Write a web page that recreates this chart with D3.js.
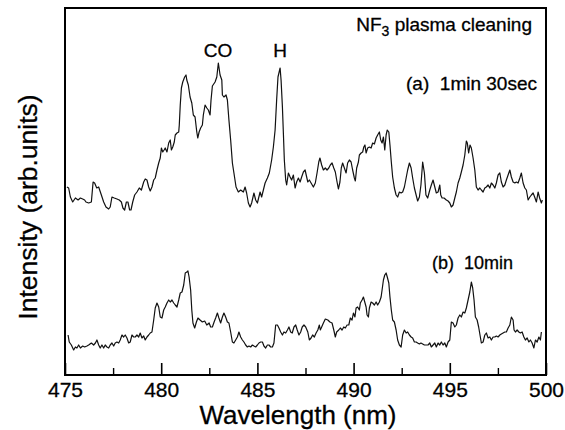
<!DOCTYPE html>
<html>
<head>
<meta charset="utf-8">
<script src="https://cdn.jsdelivr.net/npm/d3@7"></script>
<style>
  body { margin: 0; background: #fff; }
  text { font-family: "Liberation Sans", Arial, Helvetica, sans-serif; fill: #000; stroke: #000; stroke-width: 0.3px; }
</style>
</head>
<body>
<svg id="chart" width="565" height="430"></svg>
<script>
// Emission spectra recorded during NF3 plasma cleaning (arbitrary intensity units)
const wavelengthA = [475.10,475.19,475.28,475.40,475.54,475.68,475.80,475.92,476.02,476.09,476.23,476.37,476.46,476.54,476.65,476.75,476.89,477.01,477.13,477.27,477.35,477.44,477.56,477.70,477.82,477.93,478.01,478.10,478.19,478.27,478.36,478.43,478.52,478.62,478.74,478.86,478.97,479.09,479.17,479.26,479.35,479.43,479.52,479.61,479.69,479.78,479.87,479.95,480.01,480.08,480.15,480.21,480.30,480.39,480.47,480.53,480.60,480.68,480.73,480.82,480.91,480.94,480.99,481.05,481.12,481.22,481.29,481.33,481.41,481.50,481.59,481.67,481.76,481.85,481.90,481.97,482.05,482.14,482.19,482.28,482.37,482.45,482.54,482.59,482.66,482.80,482.89,482.97,483.06,483.15,483.18,483.26,483.37,483.44,483.52,483.61,483.70,483.78,483.89,484.01,484.13,484.27,484.36,484.44,484.53,484.62,484.70,484.82,484.91,485.00,485.14,485.22,485.31,485.40,485.52,485.62,485.74,485.83,485.92,486.00,486.07,486.18,486.23,486.30,486.35,486.40,486.47,486.52,486.61,486.70,486.78,486.87,486.96,487.04,487.13,487.22,487.30,487.39,487.48,487.56,487.62,487.70,487.79,487.91,488.01,488.10,488.19,488.25,488.34,488.43,488.53,488.62,488.71,488.79,488.88,488.97,489.05,489.14,489.21,489.29,489.36,489.43,489.52,489.61,489.69,489.78,489.87,489.95,490.04,490.09,490.16,490.25,490.30,490.39,490.47,490.53,490.59,490.65,490.73,490.82,490.91,490.99,491.08,491.17,491.25,491.34,491.41,491.48,491.55,491.62,491.69,491.75,491.83,491.89,491.96,492.03,492.12,492.21,492.29,492.38,492.47,492.55,492.64,492.73,492.81,492.90,492.99,493.07,493.16,493.25,493.33,493.42,493.50,493.59,493.68,493.76,493.85,493.96,494.04,494.13,494.22,494.30,494.39,494.48,494.53,494.60,494.70,494.82,494.91,495.00,495.08,495.17,495.26,495.34,495.43,495.52,495.60,495.69,495.78,495.86,495.91,495.98,496.05,496.12,496.21,496.30,496.38,496.47,496.56,496.64,496.73,496.82,496.90,496.99,497.08,497.16,497.25,497.34,497.42,497.51,497.60,497.68,497.77,497.86,497.94,498.03,498.12,498.20,498.29,498.38,498.46,498.55,498.64,498.72,498.81,498.90,498.98,499.07,499.16,499.24,499.33,499.41,499.50,499.59,499.67,499.76,499.81];
const intensityA = [188,187,178,173,177,175,177,176,175,173,172,173,193,192,187,188,180,173,168,166,168,178,177,176,175,173,167,165,173,173,165,165,173,180,183,187,185,193,196,195,188,184,188,195,197,205,212,217,227,223,225,227,223,232,235,225,228,233,240,242,243,250,270,287,293,298,300,295,290,278,272,260,258,243,237,243,247,250,260,270,267,265,260,275,289,293,298,312,300,295,280,278,280,275,255,235,212,202,188,183,185,183,188,182,172,168,172,182,175,172,183,178,185,192,197,202,215,228,245,275,298,307,295,268,242,215,195,190,202,198,195,200,187,193,197,193,198,203,205,198,193,195,192,188,192,202,213,217,210,205,207,205,207,210,212,207,203,193,186,193,207,212,207,202,212,215,213,205,197,194,207,213,220,222,223,228,230,222,227,228,227,232,231,237,240,243,235,232,238,225,240,245,243,230,213,198,187,180,178,183,182,183,188,197,205,212,207,197,187,180,174,178,190,213,202,180,177,185,190,195,188,182,183,190,180,177,177,175,174,172,168,170,177,183,192,197,203,210,220,234,232,222,230,227,217,205,188,185,187,185,183,187,188,190,187,192,190,187,192,200,202,193,188,190,195,200,205,198,193,192,193,192,197,202,192,187,185,175,178,180,182,178,173,183,177,172,175];

const wavelengthB = [475.16,475.22,475.33,475.45,475.54,475.62,475.71,475.80,475.92,476.02,476.14,476.23,476.37,476.49,476.58,476.66,476.75,476.83,476.92,477.01,477.09,477.18,477.27,477.35,477.44,477.53,477.61,477.70,477.79,477.87,477.96,478.05,478.13,478.22,478.31,478.39,478.48,478.57,478.65,478.74,478.83,478.91,479.00,479.09,479.17,479.26,479.35,479.43,479.52,479.61,479.69,479.78,479.87,479.95,480.04,480.13,480.21,480.30,480.39,480.47,480.56,480.65,480.73,480.82,480.91,480.99,481.08,481.17,481.25,481.33,481.39,481.45,481.53,481.59,481.65,481.74,481.83,481.91,482.02,482.14,482.26,482.37,482.49,482.57,482.66,482.75,482.83,482.92,483.00,483.09,483.18,483.26,483.35,483.44,483.52,483.61,483.70,483.78,483.87,483.96,484.04,484.13,484.22,484.30,484.39,484.48,484.56,484.65,484.74,484.82,484.91,485.00,485.08,485.17,485.26,485.34,485.43,485.52,485.60,485.69,485.78,485.86,485.95,486.04,486.12,486.21,486.30,486.38,486.47,486.56,486.64,486.73,486.81,486.90,486.99,487.07,487.16,487.25,487.33,487.42,487.51,487.62,487.70,487.79,487.87,487.96,488.05,488.14,488.22,488.27,488.34,488.43,488.53,488.66,488.77,488.88,488.97,489.05,489.12,489.23,489.31,489.40,489.49,489.57,489.66,489.75,489.83,489.92,489.99,490.07,490.13,490.21,490.30,490.35,490.44,490.51,490.58,490.65,490.70,490.77,490.82,490.91,490.99,491.08,491.17,491.25,491.34,491.43,491.48,491.55,491.62,491.69,491.75,491.83,491.89,491.96,492.03,492.12,492.21,492.29,492.38,492.47,492.55,492.64,492.73,492.81,492.90,492.99,493.07,493.16,493.25,493.33,493.42,493.50,493.59,493.68,493.76,493.87,493.96,494.04,494.13,494.22,494.30,494.39,494.48,494.56,494.65,494.74,494.82,494.91,495.00,495.08,495.17,495.26,495.34,495.43,495.52,495.60,495.69,495.78,495.86,495.95,496.04,496.12,496.19,496.26,496.33,496.42,496.50,496.57,496.64,496.73,496.82,496.90,496.99,497.08,497.16,497.25,497.34,497.42,497.51,497.60,497.68,497.77,497.86,497.94,498.03,498.12,498.20,498.29,498.34,498.41,498.50,498.59,498.67,498.76,498.85,498.93,499.02,499.11,499.19,499.28,499.37,499.45,499.54,499.63,499.71,499.76];
const intensityB = [40,33,30,25,28,27,30,27,29,28,29,30,32,30,32,35,30,27,30,27,30,28,27,30,32,29,32,33,32,35,40,38,40,37,32,33,40,38,38,40,38,42,37,39,35,38,40,42,43,55,67,72,68,58,57,65,68,72,75,73,75,72,70,68,75,82,83,90,102,103,104,98,85,65,52,47,53,57,55,53,54,50,52,48,48,53,57,62,57,52,58,62,58,53,52,43,33,32,35,38,43,38,35,33,30,28,29,28,30,29,28,30,32,33,33,29,27,30,30,28,28,32,50,50,47,43,40,43,42,45,48,43,42,48,50,45,40,43,48,50,48,43,35,37,40,38,42,45,50,45,48,52,56,55,53,52,45,38,43,45,47,45,48,47,50,50,57,55,62,58,67,68,65,72,75,78,73,68,60,58,67,73,72,70,73,70,73,78,85,95,100,102,98,92,78,65,55,53,45,35,30,28,40,45,42,43,40,38,37,33,33,32,31,32,31,30,30,30,32,28,30,32,28,32,30,33,30,32,28,33,35,53,52,48,50,57,60,58,63,62,67,75,83,93,87,75,58,55,48,40,32,33,40,42,37,38,35,38,38,39,38,40,41,42,43,43,47,50,58,55,45,43,45,43,42,43,38,35,37,33,35,32,27,35,33,38,35,43];

const xDomain = [475, 500];
const majorTicks = [475, 480, 485, 490, 495, 500];
const minorTicks = [477.5, 482.5, 487.5, 492.5, 497.5];
const xTitle = "Wavelength (nm)";
const yTitle = "Intensity (arb.units)";
const seriesLabels = ["(a)  1min 30sec", "(b)  10min"];
const peakLabels = ["CO", "H"];
const peakWavelengths = [482.95, 486.18];

const svg = d3.select("#chart");
const margin = { left: 65, right: 19, top: 8, bottom: 55 };
const W = 565, H = 430;

const x = d3.scaleLinear().domain(xDomain).range([margin.left, W - margin.right]);
const y = d3.scaleLinear().domain([0, 367]).range([H - margin.bottom, margin.top]);

svg.append("rect").attr("width", W).attr("height", H).attr("fill", "#fff");

// spectra
const line = d3.line().x(d => x(d[0])).y(d => y(d[1])).curve(d3.curveLinear);
const traces = [
  d3.zip(wavelengthA, intensityA),
  d3.zip(wavelengthB, intensityB)
];
svg.selectAll("path.trace").data(traces).join("path")
  .attr("class", "trace")
  .attr("d", line)
  .attr("fill", "none")
  .attr("stroke", "#111")
  .attr("stroke-width", 1.2)
  .attr("stroke-linejoin", "round");

// frame
svg.append("rect")
  .attr("x", x(xDomain[0])).attr("y", margin.top)
  .attr("width", x(xDomain[1]) - x(xDomain[0]))
  .attr("height", y(0) - margin.top)
  .attr("fill", "none").attr("stroke", "#000").attr("stroke-width", 2);

// bottom axis: major ticks with labels, minor ticks without
const axisMajor = d3.axisBottom(x).tickValues(majorTicks).tickSize(-12).tickPadding(10)
  .tickFormat(d3.format("d"));
const gMajor = svg.append("g").attr("transform", `translate(0,${y(0)})`).call(axisMajor);
gMajor.select(".domain").remove();
gMajor.selectAll(".tick line").attr("stroke", "#000").attr("stroke-width", 1.6);
gMajor.selectAll(".tick text")
  .attr("y", 22).attr("dy", 0)
  .style("font-size", "21px").style("font-family", "'Liberation Sans', Arial, sans-serif");

const axisMinor = d3.axisBottom(x).tickValues(minorTicks).tickSize(-7).tickFormat("");
const gMinor = svg.append("g").attr("transform", `translate(0,${y(0)})`).call(axisMinor);
gMinor.select(".domain").remove();
gMinor.selectAll(".tick line").attr("stroke", "#000").attr("stroke-width", 1.4);

// axis titles
svg.append("text")
  .attr("x", 298).attr("y", 424)
  .attr("text-anchor", "middle").style("font-size", "26px")
  .text(xTitle);

svg.append("text")
  .attr("transform", `translate(37,207) rotate(-90)`)
  .attr("text-anchor", "middle").style("font-size", "26.5px")
  .text(yTitle);

// annotations
const title = svg.append("text")
  .attr("x", 532).attr("y", 31).attr("text-anchor", "end").style("font-size", "19px");
title.append("tspan").text("NF");
title.append("tspan").attr("dy", 5).style("font-size", "14px").text("3");
title.append("tspan").attr("dy", -5).text(" plasma cleaning");

svg.selectAll("text.peak").data(peakLabels).join("text")
  .attr("class", "peak")
  .attr("x", (d, i) => x(peakWavelengths[i]))
  .attr("y", 57)
  .attr("text-anchor", "middle").style("font-size", "19px")
  .text(d => d);

svg.append("text").attr("x", 537).attr("y", 90).attr("text-anchor", "end")
  .style("font-size", "19px").attr("xml:space", "preserve").text(seriesLabels[0]);
svg.append("text").attr("x", 513).attr("y", 269).attr("text-anchor", "end")
  .style("font-size", "18px").attr("xml:space", "preserve").text(seriesLabels[1]);
</script>
</body>
</html>
